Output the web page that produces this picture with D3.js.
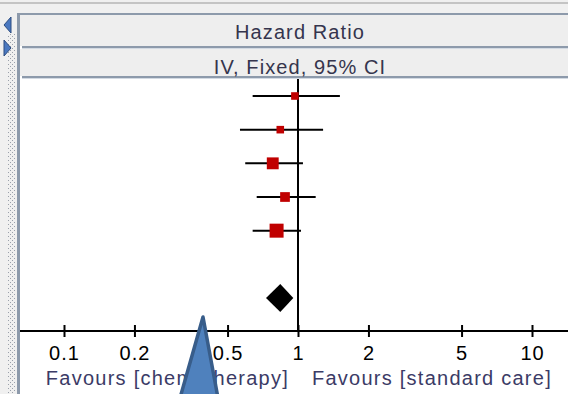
<!DOCTYPE html>
<html>
<head>
<meta charset="utf-8">
<style>
  body { margin: 0; background: #f0f0f0; }
  svg { display: block; font-family: "Liberation Sans", Arial, sans-serif; }
</style>
</head>
<body>
<div id="forest"></div>
<script src="https://d3js.org/d3.v7.min.js"></script>
<script>
// study rows (no names shown in the picture, just indices)
var studies = ["s1", "s2", "s3", "s4", "s5"];
var hr = [0.97, 0.84, 0.78, 0.88, 0.81];
var lo = [0.64, 0.565, 0.595, 0.666, 0.64];
var hi = [1.51, 1.28, 1.05, 1.19, 1.03];
var weight = [10.5, 10.5, 25.8, 17.3, 35.9];   // % weight -> square size

// pooled estimate
var pooled = [0.84, 0.73, 0.955];

var tickVals = [0.1, 0.2, 0.5, 1, 2, 5, 10];
var tickLabels = ["0.1", "0.2", "0.5", "1", "2", "5", "10"];
var headers = ["Hazard Ratio", "IV, Fixed, 95% CI"];
var favours = ["Favours [chemotherapy]", "Favours [standard care]"];

var W = 568, H = 394;

var svg = d3.select("#forest").append("svg")
    .attr("width", W)
    .attr("height", H);

// ---- window chrome ----
svg.append("rect").attr("width", W).attr("height", H).attr("fill", "#f0f0f0");
svg.append("rect").attr("x", 0).attr("y", 2).attr("width", W).attr("height", 2).attr("fill", "#c4c4c4");

// dotted splitter column on the left
var defs = svg.append("defs");
var pat = defs.append("pattern")
    .attr("id", "dots")
    .attr("width", 4).attr("height", 4)
    .attr("patternUnits", "userSpaceOnUse");
pat.append("rect").attr("x", 0).attr("y", 0).attr("width", 1).attr("height", 1).attr("fill", "#9aa0aa");
pat.append("rect").attr("x", 2).attr("y", 2).attr("width", 1).attr("height", 1).attr("fill", "#9aa0aa");
svg.append("rect").attr("x", 7).attr("y", 34).attr("width", 8).attr("height", H - 34).attr("fill", "url(#dots)");

// splitter arrows
svg.append("path").attr("d", "M11,17 L4,25 L11,33 Z").attr("fill", "#4a78c0").attr("stroke", "#2d4d80").attr("stroke-width", 1);
svg.append("path").attr("d", "M4,40 L11,48 L4,56 Z").attr("fill", "#4a78c0").attr("stroke", "#2d4d80").attr("stroke-width", 1);

// panel
svg.append("rect").attr("x", 17).attr("y", 13).attr("width", W).attr("height", H).attr("fill", "#8d9aab");
svg.append("rect").attr("x", 20).attr("y", 15).attr("width", W).attr("height", H).attr("fill", "#ffffff");

// header bands
var bandY = [[15, 46], [49, 76]];
bandY.forEach(function(b, i) {
  svg.append("rect").attr("x", 20).attr("y", b[0]).attr("width", W).attr("height", b[1] - b[0]).attr("fill", "#eeeeee");
  svg.append("rect").attr("x", 22).attr("y", b[1]).attr("width", W).attr("height", 2).attr("fill", "#8d9aab");
  svg.append("rect").attr("x", 22).attr("y", b[1] + 2).attr("width", W).attr("height", 1).attr("fill", "#d3dae3");
  svg.append("text")
      .attr("x", 300)
      .attr("y", i == 0 ? 39 : 74)
      .attr("text-anchor", "middle")
      .attr("fill", "#35354d")
      .style("font-size", "20px")
      .style("letter-spacing", "1.1px")
      .text(headers[i]);
});

// ---- scales ----
var x = d3.scaleLog()
    .domain([0.1, 10])
    .range([64, 532]);

var y = d3.scalePoint()
    .domain(d3.range(7))
    .range([96, 298]);

var size = d3.scaleSqrt()
    .domain([0, d3.max(weight)])
    .range([0, 14]);

var axisY = 331;

// line of no effect
svg.append("line")
    .attr("x1", x(1)).attr("x2", x(1))
    .attr("y1", 79).attr("y2", axisY)
    .attr("stroke", "#000").attr("stroke-width", 2);

// axis
var axis = svg.append("g")
    .attr("transform", "translate(0," + axisY + ")")
    .call(d3.axisBottom(x).tickValues(tickVals).tickFormat(function(d, i) { return tickLabels[i]; }).tickSize(6).tickPadding(9));
axis.select(".domain").remove();
axis.selectAll(".tick line").attr("y1", -6).attr("y2", 6).attr("stroke", "#000").attr("stroke-width", 2);
axis.selectAll(".tick text")
    .attr("fill", "#000")
    .style("font-size", "20px")
    .style("letter-spacing", "1px")
    .attr("dy", "0.71em");
axis.append("line")
    .attr("x1", 20).attr("x2", W)
    .attr("stroke", "#000").attr("stroke-width", 2);

// favours labels
svg.append("text")
    .attr("x", 289).attr("y", 385)
    .attr("text-anchor", "end")
    .attr("fill", "#3b3b66")
    .style("font-size", "20px")
    .style("letter-spacing", "1.25px")
    .text(favours[0]);
svg.append("text")
    .attr("x", 312).attr("y", 385)
    .attr("fill", "#3b3b66")
    .style("font-size", "20px")
    .style("letter-spacing", "1.25px")
    .text(favours[1]);

// ---- study rows ----
var rows = svg.append("g").selectAll("g")
    .data(studies)
    .enter().append("g");

rows.append("line")
    .attr("x1", function(d, i) { return x(lo[i]); })
    .attr("x2", function(d, i) { return x(hi[i]); })
    .attr("y1", function(d, i) { return y(i); })
    .attr("y2", function(d, i) { return y(i); })
    .attr("stroke", "#000").attr("stroke-width", 2);

rows.append("rect")
    .attr("x", function(d, i) { return x(hr[i]) - size(weight[i]) / 2; })
    .attr("y", function(d, i) { return y(i) - size(weight[i]) / 2; })
    .attr("width", function(d, i) { return size(weight[i]); })
    .attr("height", function(d, i) { return size(weight[i]); })
    .attr("fill", "#c00000");

// pooled diamond
var dy = y(6);
svg.append("path")
    .attr("d", "M" + x(pooled[1]) + "," + dy +
               " L" + x(pooled[0]) + "," + (dy - 14) +
               " L" + x(pooled[2]) + "," + dy +
               " L" + x(pooled[0]) + "," + (dy + 14) + " Z")
    .attr("fill", "#000");

// blue callout arrow on top
svg.append("path")
    .attr("d", "M203,317 L180,398 L218,398 Z")
    .attr("fill", "#4f81bd")
    .attr("stroke", "#385d8a")
    .attr("stroke-width", 3.5)
    .attr("stroke-linejoin", "round");
</script>
</body>
</html>
